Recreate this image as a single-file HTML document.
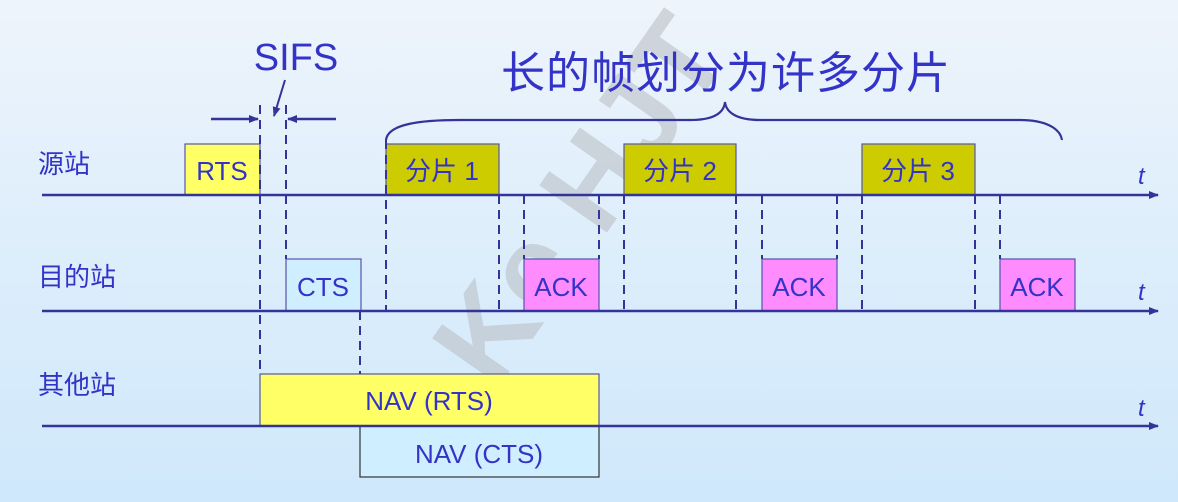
<!DOCTYPE html>
<html><head><meta charset="utf-8"><style>
html,body{margin:0;padding:0}
body{width:1178px;height:502px;overflow:hidden;background:linear-gradient(180deg,#eef4fb 0%,#e0effb 40%,#cfe8fb 100%)}
svg{display:block}
text{font-family:"Liberation Sans","Noto Sans CJK SC",sans-serif;fill:#3333c8}
</style></head><body>
<svg width="1178" height="502" viewBox="0 0 1178 502">
<defs>
<marker id="ah" markerWidth="10" markerHeight="8" refX="9" refY="4" orient="auto" markerUnits="userSpaceOnUse"><path d="M0,0 L10,4 L0,8 Z" fill="#333399"/></marker>
</defs>
<!-- watermark -->
<g transform="translate(560,230) rotate(-55)" opacity="0.55">
<text x="-170" y="40" font-size="120" font-weight="bold" style="fill:#b8bcc2">Ke HJT</text>
</g>
<!-- boxes -->
<g stroke="#5555aa" stroke-width="1.2">
<rect x="185" y="144" width="75" height="51" fill="#ffff66"/>
<rect x="286" y="259" width="75" height="52" fill="#cfeeff"/>
<rect x="386" y="144" width="113" height="51" fill="#cccc00"/>
<rect x="624" y="144" width="112" height="51" fill="#cccc00"/>
<rect x="862" y="144" width="113" height="51" fill="#cccc00"/>
<rect x="524" y="259" width="75" height="52" fill="#ff8cff"/>
<rect x="762" y="259" width="75" height="52" fill="#ff8cff"/>
<rect x="1000" y="259" width="75" height="52" fill="#ff8cff"/>
<rect x="260" y="374" width="339" height="52" fill="#ffff66"/>
<rect x="360" y="426" width="239" height="51" fill="#cfeeff" stroke="#333"/>
</g>
<!-- dashed -->
<g stroke="#333399" stroke-width="2" stroke-dasharray="9,6">
<line x1="260" y1="105" x2="260" y2="374"/>
<line x1="286" y1="105" x2="286" y2="259"/>
<line x1="360" y1="311" x2="360" y2="374"/>
<line x1="386" y1="140" x2="386" y2="311"/>
<line x1="499" y1="195" x2="499" y2="311"/>
<line x1="524" y1="195" x2="524" y2="259"/>
<line x1="599" y1="195" x2="599" y2="259"/>
<line x1="624" y1="195" x2="624" y2="311"/>
<line x1="736" y1="195" x2="736" y2="311"/>
<line x1="762" y1="195" x2="762" y2="259"/>
<line x1="837" y1="195" x2="837" y2="259"/>
<line x1="862" y1="195" x2="862" y2="311"/>
<line x1="975" y1="195" x2="975" y2="311"/>
<line x1="1000" y1="195" x2="1000" y2="259"/>
</g>
<!-- axes -->
<g stroke="#333399" stroke-width="2.5">
<line x1="42" y1="195" x2="1158" y2="195" marker-end="url(#ah)"/>
<line x1="42" y1="311" x2="1158" y2="311" marker-end="url(#ah)"/>
<line x1="42" y1="426" x2="1158" y2="426" marker-end="url(#ah)"/>
<line x1="211" y1="119" x2="258" y2="119" marker-end="url(#ah)"/>
<line x1="336" y1="119" x2="288" y2="119" marker-end="url(#ah)"/>
<line x1="285" y1="80" x2="274" y2="116" stroke-width="2" marker-end="url(#ah)"/>
</g>
<!-- brace -->
<path d="M386,140 C388,124 420,120 460,120 L690,120 C715,120 724,112 725,102 C726,112 736,120 760,120 L1020,120 C1045,120 1060,128 1062,140" fill="none" stroke="#333399" stroke-width="2.2"/>
<!-- text -->
<text x="296" y="70" font-size="38" text-anchor="middle">SIFS</text>
<text x="726" y="88" font-size="44" text-anchor="middle" letter-spacing="1">长的帧划分为许多分片</text>
<text x="38" y="173" font-size="26">源站</text>
<text x="38" y="286" font-size="26">目的站</text>
<text x="38" y="394" font-size="26">其他站</text>
<text x="222" y="180" font-size="26" text-anchor="middle">RTS</text>
<text x="323" y="296" font-size="26" text-anchor="middle">CTS</text>
<text x="442" y="180" font-size="26" text-anchor="middle">分片 1</text>
<text x="680" y="180" font-size="26" text-anchor="middle">分片 2</text>
<text x="918" y="180" font-size="26" text-anchor="middle">分片 3</text>
<text x="561" y="296" font-size="26" text-anchor="middle">ACK</text>
<text x="799" y="296" font-size="26" text-anchor="middle">ACK</text>
<text x="1037" y="296" font-size="26" text-anchor="middle">ACK</text>
<text x="429" y="410" font-size="26" text-anchor="middle">NAV (RTS)</text>
<text x="479" y="463" font-size="26" text-anchor="middle">NAV (CTS)</text>
<text x="1138" y="184" font-size="24" font-style="italic">t</text>
<text x="1138" y="300" font-size="24" font-style="italic">t</text>
<text x="1138" y="416" font-size="24" font-style="italic">t</text>
</svg>
</body></html>
